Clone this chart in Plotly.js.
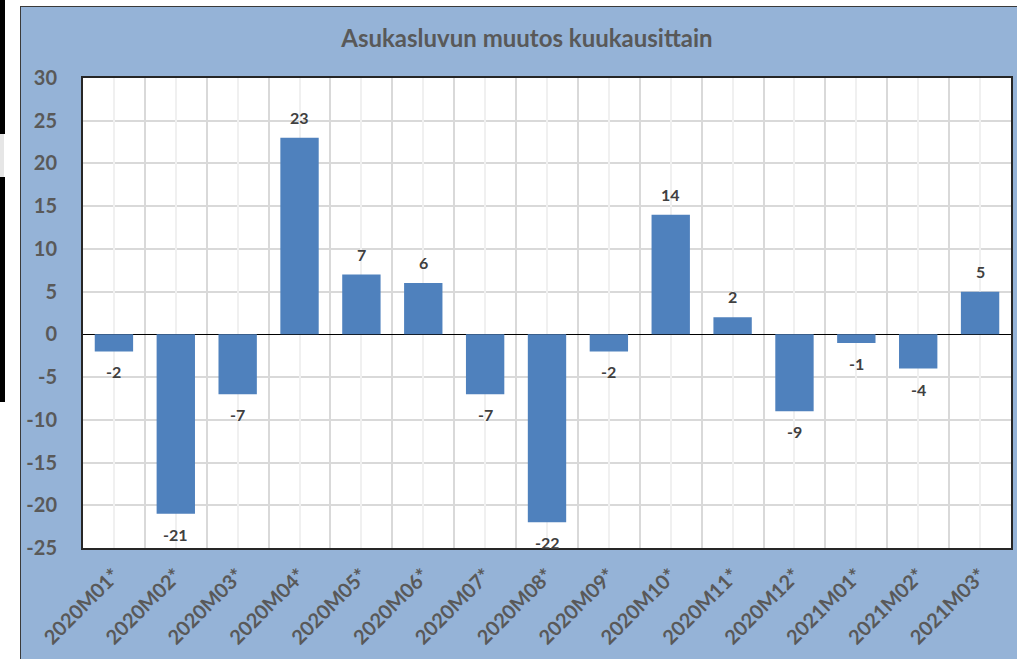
<!DOCTYPE html>
<html>
<head>
<meta charset="utf-8">
<script src="https://cdn.plot.ly/plotly-3.0.1.min.js"></script>
<style>
  html, body { margin: 0; padding: 0; background: #ffffff; width: 1017px; height: 659px; overflow: hidden; }
  #frame { position: absolute; left: 20px; top: 6px; width: 1000px; height: 660px; border: 1px solid #3a3a3a; background: #95B3D7; }
  #chart { position: absolute; left: 0; top: 0; width: 996px; height: 652px; }
  .strip { position: absolute; left: 0; width: 5px; background: #000; }
</style>
</head>
<body>
<div class="strip" style="top:0;height:134px;"></div>
<div class="strip" style="top:134px;height:43px;width:4px;background:#e6e6e6;"></div>
<div class="strip" style="top:177px;height:225px;"></div>
<div id="frame"><div id="chart"></div></div>
<script>
const chartTitle = "Asukasluvun muutos kuukausittain";
const months = ["2020M01*","2020M02*","2020M03*","2020M04*","2020M05*","2020M06*","2020M07*","2020M08*","2020M09*","2020M10*","2020M11*","2020M12*","2021M01*","2021M02*","2021M03*"];
const changes = [-2, -21, -7, 23, 7, 6, -7, -22, -2, 14, 2, -9, -1, -4, 5];
const yTicks = [-25, -20, -15, -10, -5, 0, 5, 10, 15, 20, 25, 30];

const FONT = "Lato, 'Open Sans', 'Liberation Sans', sans-serif";
const GRAY = "#595959";

const traces = [
  {
    type: "scatter", x: months, y: months.map(() => null), xaxis: "x2", yaxis: "y",
    mode: "none", hoverinfo: "skip", showlegend: false
  },
  {
    type: "bar", x: months, y: changes,
    marker: { color: "#4F81BD", line: { width: 0 } },
    hoverinfo: "x+y", showlegend: false
  }
];

const annotations = months.map((m, i) => ({
  x: m, y: changes[i], xref: "x", yref: "y",
  text: String(changes[i]),
  showarrow: false,
  yanchor: changes[i] >= 0 ? "bottom" : "top",
  yshift: changes[i] >= 0 ? 9 : -9,
  font: { family: FONT, size: 16, color: "#404040", weight: "bold" }
}));

const layout = {
  width: 996, height: 652,
  paper_bgcolor: "#95B3D7",
  plot_bgcolor: "#ffffff",
  margin: { l: 62, r: 6, t: 71, b: 111 },
  title: {
    text: chartTitle,
    font: { family: FONT, size: 24, color: GRAY, weight: "bold" },
    x: 0.508, xref: "container", xanchor: "center",
    y: 0.952, yref: "container", yanchor: "middle"
  },
  bargap: 0.38,
  xaxis: {
    type: "category", categoryorder: "array", categoryarray: months,
    range: [-0.5, months.length - 0.5],
    tickson: "boundaries", showgrid: true, gridcolor: "#d9d9d9", gridwidth: 2,
    ticks: "", tickangle: -45,
    tickfont: { family: FONT, size: 20, color: GRAY, weight: "bold" },
    ticklabelstandoff: 6,
    showline: true, linecolor: "#262626", linewidth: 2, mirror: true,
    zeroline: false, fixedrange: true
  },
  xaxis2: {
    type: "category", categoryorder: "array", categoryarray: months,
    overlaying: "x", matches: "x",
    range: [-0.5, months.length - 0.5],
    showgrid: true, gridcolor: "#f0f0f0", gridwidth: 2,
    showticklabels: false, ticks: "", showline: false, zeroline: false
  },
  yaxis: {
    range: [-25, 30], tickvals: yTicks, ticktext: yTicks.map(String),
    showgrid: true, gridcolor: "#d9d9d9", gridwidth: 2,
    zeroline: true, zerolinecolor: "#000000", zerolinewidth: 1.5,
    ticks: "", ticklabelstandoff: 20,
    tickfont: { family: FONT, size: 20, color: GRAY, weight: "bold" },
    showline: true, linecolor: "#262626", linewidth: 2, mirror: true,
    fixedrange: true
  },
  annotations: annotations
};

Plotly.newPlot("chart", traces, layout, { displayModeBar: false, staticPlot: true });
</script>
</body>
</html>
